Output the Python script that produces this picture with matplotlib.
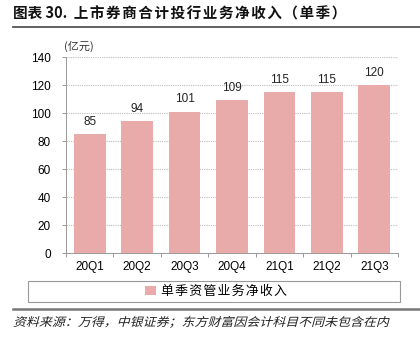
import matplotlib

matplotlib.use("Agg")

import matplotlib.pyplot as plt
from matplotlib.patches import Rectangle, PathPatch
from matplotlib.lines import Line2D
from matplotlib.textpath import TextPath
from matplotlib.font_manager import FontProperties
from matplotlib.transforms import Affine2D

plt.rcParams["font.family"] = ["Liberation Sans", "Noto Sans CJK SC", "DejaVu Sans"]

quarters = ["20Q1", "20Q2", "20Q3", "20Q4", "21Q1", "21Q2", "21Q3"]
revenue = [85, 94, 101, 109, 115, 115, 120]
yticks = [0, 20, 40, 60, 80, 100, 120, 140]

title_head = "图表 30.  "
title_body = "上市券商合计投行业务净收入（单季）"
legend_label = "单季资管业务净收入"
unit_label = "(亿元)"
source = "资料来源：万得，中银证券；东方财富因会计科目不同未包含在内"

bar_color = "#E9AAAA"
cjk = ["Noto Sans CJK SC", "DejaVu Sans"]
hair = "\u200a"

fig = plt.figure(figsize=(4.2, 3.37), dpi=100)
W, H = 420, 337

ax = fig.add_axes([66 / W, 1 - 253 / H, 332 / W, 196 / H])
x = list(range(len(quarters)))
bars = ax.bar(x, revenue, width=0.67, color=bar_color, zorder=2)

for xi, v in zip(x, revenue):
    ax.text(xi, v + 4.5, f"{v}", ha="center", va="bottom", fontsize=8.5, color="#222222")

ax.set_xlim(-0.5, len(quarters) - 0.5)
ax.set_ylim(0, 140)
ax.set_yticks(yticks)
ax.set_yticklabels([str(t) for t in yticks], fontsize=8.5)
ax.set_xticks(x)
ax.set_xticklabels(quarters, fontsize=8.5)
ax.tick_params(axis="x", length=0, pad=6)
ax.tick_params(axis="y", length=3, width=0.6, color="#888888", pad=8)
# ticks between categories
ax.set_xticks([i - 0.5 for i in range(len(quarters) + 1)], minor=True)
ax.tick_params(axis="x", which="minor", length=3, width=0.6, color="#888888", direction="out")

ax.grid(axis="y", linestyle=(0, (1, 1)), color="#BBBBBB", linewidth=0.8, zorder=0)
for s in ["top", "right"]:
    ax.spines[s].set_visible(False)
for s in ["left", "bottom"]:
    ax.spines[s].set_color("#999999")
    ax.spines[s].set_linewidth(0.7)

fig.text(64 / W, 1 - 46 / H, unit_label, fontsize=8, family=cjk, color="#333333",
         ha="left", va="center")

# title + rules
fig.text(13 / W, 1 - 14 / H, title_head + hair.join(title_body), fontsize=10.5,
         fontweight="bold", family=cjk, ha="left", va="center", color="#111111")
fig.add_artist(Line2D([13 / W, 1], [1 - 27 / H, 1 - 27 / H], color="#555555", linewidth=1.3))
fig.add_artist(Line2D([13 / W, 1], [1 - 309 / H, 1 - 309 / H], color="#777777", linewidth=1.8))

# legend box
fig.add_artist(Rectangle((28 / W, 1 - 302 / H), 372 / W, 21 / H, transform=fig.transFigure,
                         facecolor="white", edgecolor="#999999", linewidth=0.8))
fig.legend([bars], [hair.join(legend_label)], loc="center", bbox_to_anchor=(216 / W, 1 - 291.5 / H),
           frameon=False, handlelength=0.8, handleheight=0.8, handletextpad=0.4,
           prop={"family": cjk, "size": 9.3})

# source note, slanted like the original
tp = TextPath((0, 0), source, size=8.5, prop=FontProperties(family="Noto Sans CJK SC"))
tp_w = tp.get_extents().width
sx = (387 - 13) / tp_w
tr = Affine2D().skew_deg(14, 0).scale(sx, 100 / 72).translate(13, H - 326)
fig.add_artist(PathPatch(tp, transform=tr, facecolor="#222222", edgecolor="none"))

fig.savefig("out.png", dpi=100)
